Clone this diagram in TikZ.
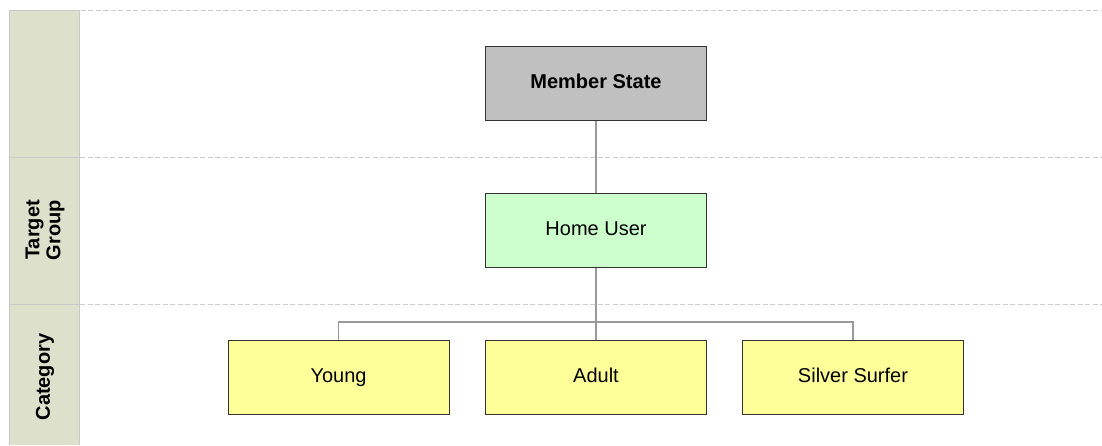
\documentclass[tikz,border=0pt]{standalone}
\usepackage{fontspec}
\setmainfont{Liberation Sans}
\definecolor{bandfill}{HTML}{DDE0CB}
\definecolor{bandline}{HTML}{C8C8C8}
\definecolor{guide}{HTML}{CCCCCC}
\definecolor{wire}{HTML}{999999}
\definecolor{boxline}{HTML}{333333}
\definecolor{statefill}{HTML}{C0C0C0}
\definecolor{groupfill}{HTML}{CCFFCC}
\definecolor{catfill}{HTML}{FFFF99}
\tikzset{
  unit/.style={draw=boxline, line width=1pt, minimum width=221pt, minimum height=74pt,
    inner sep=0pt, text height=15pt, text depth=4pt, font=\fontsize{20}{24}\selectfont},
  lanelabel/.style={rotate=90, align=center, font=\fontsize{20}{21}\selectfont\bfseries},
  guideline/.style={draw=guide, line width=1pt, dash pattern=on 5pt off 2.5pt},
  link/.style={draw=wire, line width=1.4pt}
}
\begin{document}
\begin{tikzpicture}[x=1pt,y=-1pt]
\useasboundingbox (0,0) rectangle (1102,445);
% lane headers
\fill[bandfill] (9.5,10) rectangle (79.5,445);
\draw[bandline, line width=1pt] (9.5,445) -- (9.5,10) -- (79.5,10) -- (79.5,445);
\draw[bandline, line width=1pt] (9.5,157) -- (79.5,157);
\draw[bandline, line width=1pt] (9.5,304) -- (79.5,304);
% lane separators
\draw[guideline] (43,10) -- (1102,10);
\draw[guideline] (80,157) -- (1102,157);
\draw[guideline] (80,304) -- (1102,304);
\node[lanelabel] (lgroup) at (45,230) {Target\\Group};
\node[lanelabel] (lcat) at (45,377) {Category};
% hierarchy boxes
\node[unit, fill=statefill, font=\fontsize{20}{24}\selectfont\bfseries] (ms) at (596,83) {Member State};
\node[unit, fill=groupfill] (hu) at (596,230) {Home User};
\node[unit, fill=catfill] (young) at (338.5,377) {Young};
\node[unit, fill=catfill] (adult) at (596,377) {Adult};
\node[unit, fill=catfill] (silver) at (853,377) {Silver Surfer};
\coordinate (bus) at (596,322);
% connectors
\draw[link] (ms.south) -- (hu.north);
\draw[link] (hu.south) -- (adult.north);
\draw[link] (young.north) |- (bus) -| (silver.north);
\end{tikzpicture}
\end{document}
